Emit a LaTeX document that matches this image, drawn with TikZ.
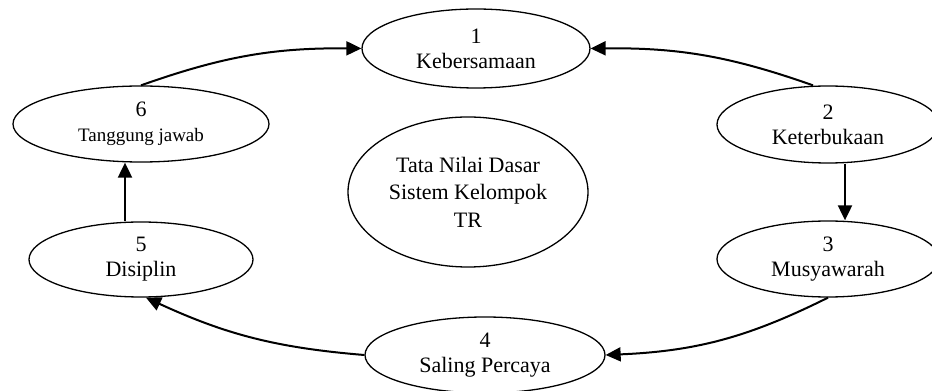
\documentclass[tikz,border=0pt]{standalone}
\usepackage{fontspec}
\setmainfont{Liberation Serif}
\usepackage{tikz}
\usetikzlibrary{shapes.geometric,arrows.meta}
\tikzset{
  nilai/.style={draw, ellipse, line width=1.3pt, inner sep=0pt, align=center,
                font=\fontsize{22}{25}\selectfont},
  panah/.style={line width=2pt, -{Triangle[length=15pt,width=14pt]}}
}

\begin{document}
\begin{tikzpicture}[x=1pt,y=1pt]
                    \useasboundingbox (0,0) rectangle (932,391);
%                    ellipses
                    \node[nilai, minimum width=228pt, minimum height=79pt] (k1) at (476,342.5) {1\\Kebersamaan};
                    \node[nilai, minimum width=222pt, minimum height=77pt] (k2) at (828,266.5) {2\\Keterbukaan};
                    \node[nilai, minimum width=222pt, minimum height=76pt] (k3) at (828,132) {3\\Musyawarah};
                    \node[nilai, minimum width=240pt, minimum height=76pt] (k4) at (485,36) {4\\Saling Percaya};
                    \node[nilai, minimum width=224pt, minimum height=75pt] (k5) at (141,131.5) {5\\Disiplin};
                    \node[nilai, minimum width=256pt, minimum height=76pt] (k6) at (141,267) {6\\{\fontsize{19}{25}\selectfont Tanggung jawab}};
                    \node[nilai, minimum width=240pt, minimum height=150pt, font=\fontsize{22}{27.5}\selectfont] (pusat) at (468,199) {Tata Nilai Dasar\\Sistem Kelompok\\TR};

%                    arrows
                    \draw[panah] ([xshift=-15pt]k2.north) to[bend right=10] (k1.east);
                    \draw[panah] ([xshift=17pt]k2.south) -- ([xshift=17pt]k3.north);
                    \draw[panah] (k3.south) to[bend left=12] (k4.east);
                    \draw[panah] (k4.west) to[bend left=10] ([xshift=5pt]k5.south);
                    \draw[panah] ([xshift=-16pt]k5.north) -- ([xshift=-16pt]k6.south);
                    \draw[panah] (k6.north) to[bend left=10] (k1.west);

                \end{tikzpicture}
\end{document}
